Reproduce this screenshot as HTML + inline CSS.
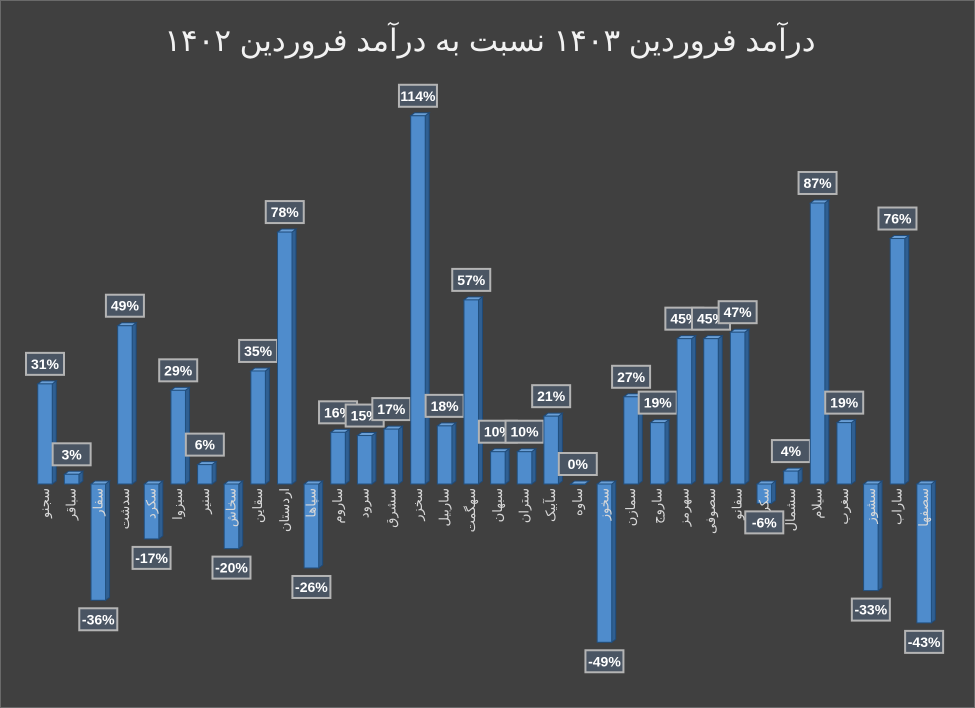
<!DOCTYPE html>
<html><head><meta charset="utf-8"><style>
html,body{margin:0;padding:0;background:#404040;}
svg{display:block;}
</style></head><body>
<svg width="975" height="708" viewBox="0 0 975 708">
<rect x="0.5" y="0.5" width="974" height="707" fill="#404040" stroke="#6a6a6a"/>
<text x="490" y="51" text-anchor="middle" font-family="'Liberation Sans','Noto Sans CJK SC',sans-serif" font-size="31" fill="#f2f2f2" direction="rtl">درآمد فروردین ۱۴۰۳ نسبت به درآمد فروردین ۱۴۰۲</text>
<g id="plot"></g>
</svg>
<script>
const categories=["سجنو","سباقر","سفار","سدشت","سکرد","سبزوا","سنیر","سخاش","سقاین","اردستان","سپاها","ساروم","سرود","سشرق","سخزر","ساربیل","سهگمت","سبهان","ستران","سآبیک","ساوه","سخوز","سمازن","ساروج","سهرمز","سصوفی","سفانو","سکرما","سشمال","سیلام","سغرب","سشوز","ساراب","سصفها"];
const values=[31,3,-36,49,-17,29,6,-20,35,78,-26,16,15,17,114,18,57,10,10,21,0,-49,27,19,45,45,47,-6,4,87,19,-33,76,-43];
const NS="http://www.w3.org/2000/svg";
const g=document.getElementById('plot');
const zeroY=484, pxPer=3.23, x0=45, step=26.64, bw=14.5, depth=4;
function xScale(i){return x0+i*step;}
function yScale(v){return zeroY-v*pxPer;}
function mk(tag,attrs){const e=document.createElementNS(NS,tag);for(const k in attrs)e.setAttribute(k,attrs[k]);g.appendChild(e);return e;}
values.forEach((v,i)=>{
  const cx=xScale(i), l=cx-bw/2, r=cx+bw/2;
  const yv=yScale(v), top=Math.min(yv,zeroY), bot=Math.max(yv,zeroY);
  const h=Math.max(bot-top,0.5);
  const side=mk('polygon',{points:`${r},${top} ${r+depth},${top-3} ${r+depth},${bot-3} ${r},${bot}`,fill:'#2f5f92',stroke:'#1f4a78','stroke-width':1});
  
  
  const tp=mk('polygon',{points:`${l},${top} ${l+depth},${top-3} ${r+depth},${top-3} ${r},${top}`,fill:'#6a9fd6',stroke:'#1f4a78','stroke-width':1});
  
  
  const b=mk('rect',{x:l,y:top,width:bw,height:h,fill:'#4f8ccc',stroke:'#22507f','stroke-width':1});
  
  
  const t=mk('text',{x:0,y:0,transform:`translate(${cx+4},488) rotate(-90)`,'text-anchor':'end','font-family':"'Liberation Sans','Noto Sans CJK SC',sans-serif",'font-size':13,fill:'#d8d8d8'});
  t.textContent=categories[i];
  
  
  const by = v>=0 ? top-3-6-22 : bot+8;
  const box=mk('rect',{x:cx-19,y:by,width:38,height:22,fill:'#4a5563',stroke:'#b4b4b4','stroke-width':2});
  
  
  const vt=mk('text',{x:cx,y:by+16,'text-anchor':'middle','font-family':"'Liberation Sans',sans-serif",'font-size':14,'font-weight':'bold',fill:'#ffffff'});
  vt.textContent=v+'%';
  
  
});
</script>
</body></html>
